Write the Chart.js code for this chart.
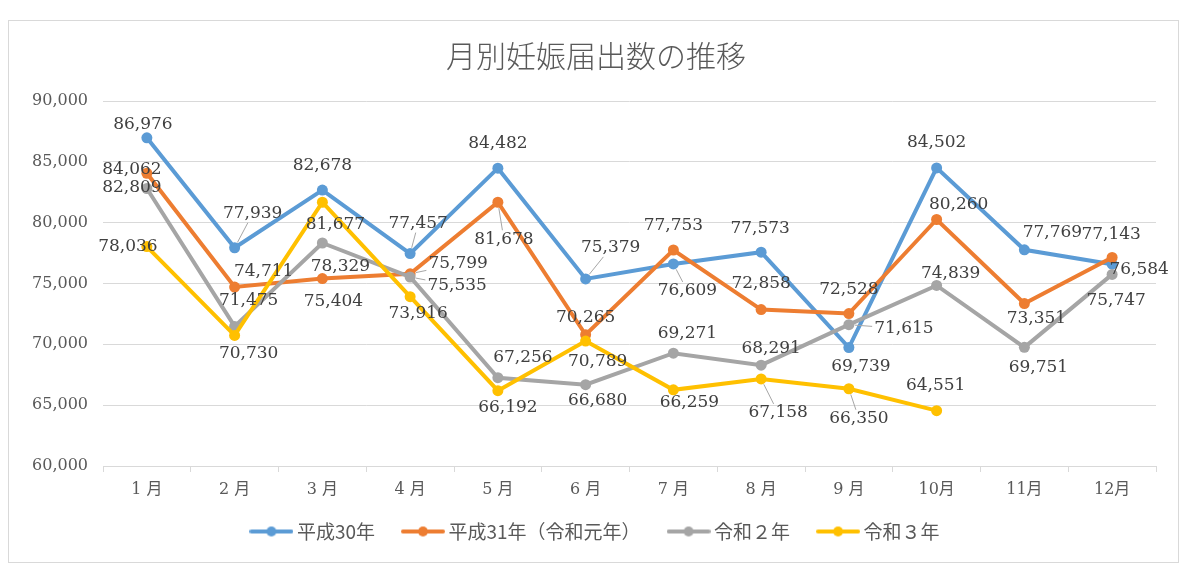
<!DOCTYPE html>
<html>
<head>
<meta charset="utf-8">
<script src="https://cdn.jsdelivr.net/npm/chart.js@4.4.1/dist/chart.umd.min.js"></script>
<style>
  html, body { margin: 0; padding: 0; background: #fff; }
  #wrap { width: 1200px; height: 577px; position: relative; }
</style>
</head>
<body>
<div id="wrap"><canvas id="chart"></canvas></div>
<script>
// months and series values
const months = ['1 月', '2 月', '3 月', '4 月', '5 月', '6 月', '7 月', '8 月', '9 月', '10月', '11月', '12月'];
const seriesNames = ['平成30年', '平成31年（令和元年）', '令和２年', '令和３年'];
const h30 = [86976, 77939, 82678, 77457, 84482, 75379, 76609, 77573, 69739, 84502, 77769, 76584];
const h31 = [84062, 74711, 75404, 75799, 81678, 70789, 77753, 72858, 72528, 80260, 73351, 77143];
const r2  = [82809, 71475, 78329, 75535, 67256, 66680, 69271, 68291, 71615, 74839, 69751, 75747];
const r3  = [78036, 70730, 81677, 73916, 66192, 70265, 66259, 67158, 66350, 64551, null, null];
const yMin = 60000, yMax = 90000, yStep = 5000;
const chartTitle = '月別妊娠届出数の推移';

const colors = ['#5B9BD5', '#ED7D31', '#A5A5A5', '#FFC000'];

// where each value label sits relative to its point (dx, dy in px)
const labelOffsets = [
  [[-4,-13],[18,-34],[0,-25],[8,-30],[0,-25],[25,-31],[14,27],[-1,-24],[12,19],[0,-25],[28,-17],[27,5]],
  [[-15,-4],[29,-15],[11,23],[48,-10],[6,37],[12,27],[0,-24],[0,-26],[0,-24],[22,-15],[12,15],[-1,-23]],
  [[-15,-1],[14,-26],[18,24],[47,9],[25,-20],[12,16],[14,-20],[10,-17],[55,4],[14,-12],[14,20],[4,26]],
  [[-19,0],[14,18],[13,22],[8,17],[10,17],[0,-24],[16,13],[17,34],[10,30],[-1,-25]]
];
// labels that get a leader line back to the point
const leaders = [[1, 3, 5, 6], [3, 4], [3, 8], [7, 8]];

const fmt = v => String(v).replace(/\B(?=(\d{3})+(?!\d))/g, ',');

function legendIcon(color) {
  const c = document.createElement('canvas');
  c.width = 44; c.height = 12;
  const g = c.getContext('2d');
  g.strokeStyle = color; g.lineWidth = 4; g.lineCap = 'round';
  g.beginPath(); g.moveTo(2, 6); g.lineTo(42, 6); g.stroke();
  g.fillStyle = color;
  g.beginPath(); g.arc(22, 6, 5, 0, Math.PI * 2); g.fill();
  return c;
}
const icons = colors.map(legendIcon);

// background, outer frame and title
const framePlugin = {
  id: 'frame',
  afterLayout(chart) {
    // nudge the legend to where Excel put it (centred on the frame, a bit higher)
    const lg = chart.legend;
    if (lg) {
      lg.left += 19.5; lg.right += 19.5;
      lg.top -= 22; lg.bottom -= 22;
    }
  },
  beforeDraw(chart) {
    const ctx = chart.ctx;
    ctx.save();
    ctx.fillStyle = '#fff';
    ctx.fillRect(0, 0, chart.width, chart.height);
    ctx.strokeStyle = '#d9d9d9';
    ctx.lineWidth = 1;
    ctx.strokeRect(8.5, 20.5, 1170, 542);
    ctx.fillStyle = '#595959';
    ctx.font = '300 30px "Noto Sans CJK JP"';
    ctx.textAlign = 'center';
    ctx.textBaseline = 'middle';
    ctx.fillText(chartTitle, 596, 56);
    ctx.restore();
  }
};

// value labels with optional leader lines
const valueLabels = {
  id: 'valueLabels',
  afterDatasetsDraw(chart) {
    const ctx = chart.ctx;
    ctx.save();
    ctx.font = '17px "DejaVu Serif"';
    ctx.textAlign = 'center';
    ctx.textBaseline = 'middle';
    chart.data.datasets.forEach((ds, di) => {
      const meta = chart.getDatasetMeta(di);
      meta.data.forEach((pt, i) => {
        const v = ds.data[i];
        if (v == null) return;
        const text = fmt(v);
        const [dx, dy] = labelOffsets[di][i];
        const lx = pt.x + dx, ly = pt.y + dy;
        if (leaders[di].includes(i)) {
          const hw = ctx.measureText(text).width / 2 + 2, hh = 9;
          const vx = pt.x - lx, vy = pt.y - ly;
          const len = Math.hypot(vx, vy);
          const t = Math.min(vx ? hw / Math.abs(vx) : Infinity, vy ? hh / Math.abs(vy) : Infinity);
          const sx = lx + vx * t, sy = ly + vy * t;
          const ex = pt.x - vx / len * 6, ey = pt.y - vy / len * 6;
          if (t < 1 && Math.hypot(ex - sx, ey - sy) > 3) {
            ctx.strokeStyle = '#a6a6a6';
            ctx.lineWidth = 1;
            ctx.beginPath(); ctx.moveTo(sx, sy); ctx.lineTo(ex, ey); ctx.stroke();
          }
        }
        ctx.fillStyle = '#404040';
        ctx.fillText(text, lx, ly);
      });
    });
    ctx.restore();
  }
};

const allSeries = [h30, h31, r2, r3];

const datasets = allSeries.map((vals, i) => ({
  label: seriesNames[i],
  data: vals,
  borderColor: colors[i],
  backgroundColor: colors[i],
  pointBackgroundColor: colors[i],
  pointBorderColor: colors[i],
  pointRadius: 5.5,
  pointBorderWidth: 0,
  borderWidth: 4,
  tension: 0,
  order: allSeries.length - 1 - i   // later years on top, like Excel
}));

new Chart(document.getElementById('chart'), {
  type: 'line',
  data: { labels: months, datasets: datasets },
  plugins: [framePlugin, valueLabels],
  options: {
    responsive: true,
    maintainAspectRatio: false,
    animation: false,
    layout: { padding: { left: 0, right: 44, top: 101, bottom: 4 } },
    plugins: {
      tooltip: { enabled: false },
      title: { display: false },
      legend: {
        position: 'bottom',
        labels: {
          usePointStyle: true,
          pointStyleWidth: 32,
          padding: 32,
          color: '#595959',
          font: { family: '"Noto Sans CJK JP"', size: 19 },
          sort: (a, b) => a.datasetIndex - b.datasetIndex,
          generateLabels(chart) {
            const items = Chart.defaults.plugins.legend.labels.generateLabels(chart);
            items.forEach(it => { it.pointStyle = icons[it.datasetIndex]; });
            return items;
          }
        }
      }
    },
    scales: {
      x: {
        offset: true,
        grid: { offset: true, drawOnChartArea: false, drawTicks: true, tickLength: 6, color: '#d9d9d9' },
        border: { color: '#d9d9d9' },
        ticks: {
          color: '#595959',
          padding: 8,
          maxRotation: 0,
          font: { family: '"DejaVu Serif", "Noto Sans CJK JP"', size: 16 }
        },
        afterFit(scale) { scale.height = 46; }
      },
      y: {
        min: yMin,
        max: yMax,
        grid: { color: '#d9d9d9', drawTicks: false },
        border: { display: false },
        ticks: {
          stepSize: yStep,
          padding: 15,
          color: '#595959',
          font: { family: '"DejaVu Serif"', size: 16 },
          callback: v => fmt(v)
        },
        afterFit(scale) { scale.width = 103; }
      }
    }
  }
});
</script>
</body>
</html>
